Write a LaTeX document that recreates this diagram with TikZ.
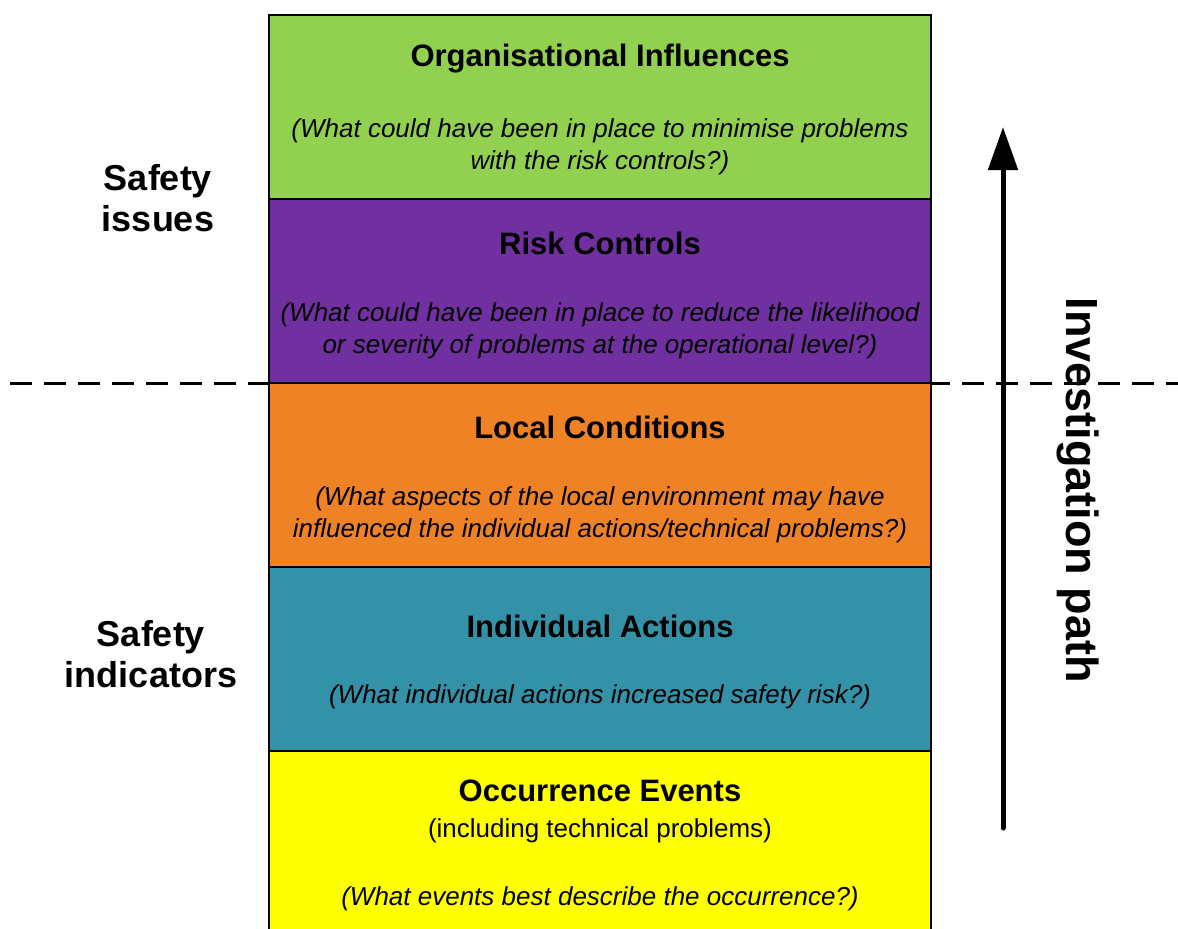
\documentclass[tikz,border=0pt]{standalone}
\usepackage{fontspec}
\setmainfont{Liberation Sans}
\usetikzlibrary{arrows.meta}
\definecolor{orggreen}{RGB}{146,208,80}
\definecolor{riskpurple}{RGB}{112,48,160}
\definecolor{localorange}{RGB}{240,130,38}
\definecolor{indteal}{RGB}{51,145,168}
\definecolor{occyellow}{RGB}{255,255,0}
\tikzset{
  layer/.style={draw=black, line width=2.4pt, minimum width=662pt, minimum height=184pt, inner sep=0pt},
  ltitle/.style={font=\fontsize{31}{36}\selectfont\bfseries, inner sep=0pt},
  lquestion/.style={font=\fontsize{26}{32.5}\selectfont\itshape, align=center, inner sep=0pt},
  lplain/.style={font=\fontsize{26}{32}\selectfont, inner sep=0pt},
  sidelabel/.style={font=\fontsize{36}{41}\selectfont\bfseries, align=center, inner sep=0pt},
  divider/.style={line width=3pt, dash pattern=on 22pt off 12pt},
  pathbar/.style={line width=5pt, line cap=round, -{Triangle[width=29pt,length=43pt]}}
}
\begin{document}
\begin{tikzpicture}[x=1pt,y=-1pt]
\useasboundingbox (0,0) rectangle (1178,929);
\fill[white] (0,0) rectangle (1178,929);

% divider between issues and indicators (behind the layers)
\coordinate (divL) at (10,383);
\coordinate (divR) at (1178,383);
\draw[divider] (divL) -- (divR);

% stacked layers
\node[layer, fill=orggreen]    (org)   at (600,107) {};
\node[layer, fill=riskpurple]  (risk)  at (600,291) {};
\node[layer, fill=localorange] (local) at (600,475) {};
\node[layer, fill=indteal]     (ind)   at (600,659) {};
\node[layer, fill=occyellow, minimum height=190pt] (occ) at (600,846) {};

% layer texts
\node[ltitle]    (orgT)  at (600,59)  {Organisational Influences};
\node[lquestion] (orgQ)  at (600,147) {(What could have been in place to minimise problems\\with the risk controls?)};
\node[ltitle]    (riskT) at (600,243) {Risk Controls};
\node[lquestion] (riskQ) at (600,331) {(What could have been in place to reduce the likelihood\\or severity of problems at the operational level?)};
\node[ltitle]    (locT)  at (600,427) {Local Conditions};
\node[lquestion] (locQ)  at (600,515) {(What aspects of the local environment may have\\influenced the individual actions/technical problems?)};
\node[ltitle]    (indT)  at (600,626) {Individual Actions};
\node[lquestion] (indQ)  at (600,697) {(What individual actions increased safety risk?)};
\node[ltitle]    (occT)  at (600,791) {Occurrence Events};
\node[lplain]    (occS)  at (600,831) {(including technical problems)};
\node[lquestion] (occQ)  at (600,899) {(What events best describe the occurrence?)};

% side labels
\node[sidelabel] (issues) at (158,198) {Safety\\issues};
\node[sidelabel] (indic)  at (151,654) {Safety\\indicators};

% investigation path arrow
\coordinate (pathStart) at (1003,828);
\coordinate (pathEnd)   at (1003,127);
\draw[pathbar] (pathStart) -- (pathEnd);
\node[font=\fontsize{45}{50}\selectfont\bfseries, rotate=-90, inner sep=0pt] (invpath) at (1078,490) {Investigation path};
\end{tikzpicture}
\end{document}
